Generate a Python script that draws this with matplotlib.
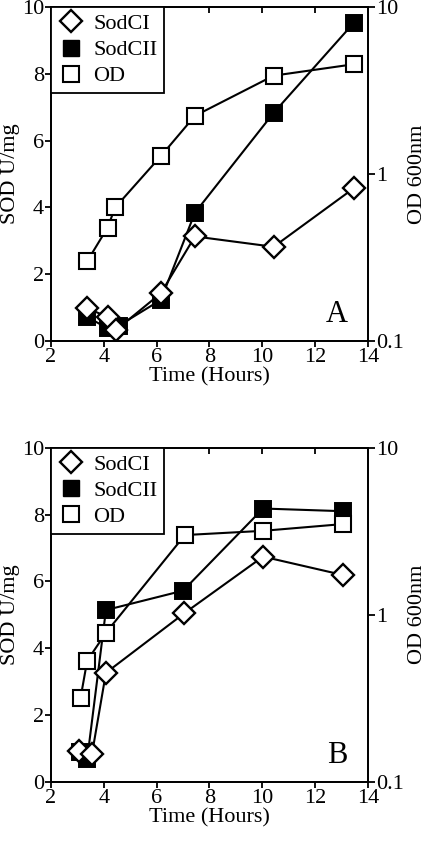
import matplotlib

matplotlib.use("Agg")
import matplotlib.pyplot as plt
from matplotlib.lines import Line2D
from matplotlib.ticker import FixedLocator, FixedFormatter, NullLocator

plt.rcParams["font.family"] = ["Liberation Serif", "DejaVu Serif"]

# Panel A
a_sodci_t = [3.37, 4.14, 4.45, 6.16, 7.45, 10.43, 13.46]
a_sodci = [0.98, 0.72, 0.32, 1.43, 3.13, 2.82, 4.57]
a_sodcii_t = [3.37, 4.14, 4.57, 6.16, 7.45, 10.43, 13.46]
a_sodcii = [0.72, 0.38, 0.46, 1.23, 3.84, 6.83, 9.52]
a_od_t = [3.37, 4.14, 4.43, 6.16, 7.45, 10.43, 13.46]
a_od = [0.30, 0.477, 0.63, 1.28, 2.23, 3.88, 4.54]

# Panel B
b_sodci_t = [3.05, 3.55, 4.08, 7.04, 10.03, 13.05]
b_sodci = [0.93, 0.82, 3.26, 5.04, 6.74, 6.19]
b_sodcii_t = [3.08, 3.37, 4.08, 7.0, 10.03, 13.05]
b_sodcii = [0.88, 0.67, 5.14, 5.72, 8.18, 8.10]
b_od_t = [3.12, 3.37, 4.08, 7.07, 10.03, 13.05]
b_od = [0.318, 0.53, 0.78, 3.0, 3.18, 3.49]

time_ticks = [2, 4, 6, 8, 10, 12, 14]
sod_ticks = [0, 2, 4, 6, 8, 10]
od_ticks = [0.1, 1, 10]
od_labels = ["0.1", "1", "10"]

FS = 16
LW = 1.5
MS = 11


def draw_panel(ax, sodci_t, sodci, sodcii_t, sodcii, od_t, od, letter):
    ax.plot(sodcii_t, sodcii, color="black", lw=LW, marker="s", ms=MS,
            mfc="black", mec="black", mew=1.4, zorder=3)
    ax.plot(sodci_t, sodci, color="black", lw=LW, marker="D", ms=MS,
            mfc="white", mec="black", mew=1.7, zorder=4)
    ax.set_xlim(2, 14)
    ax.set_ylim(0, 10)
    ax.set_xticks(time_ticks)
    ax.set_yticks(sod_ticks)
    ax.tick_params(axis="x", direction="out", length=4, width=1.3,
                   labelsize=FS, top=True, pad=1)
    ax.tick_params(axis="y", direction="out", length=4, width=1.3,
                   labelsize=FS, pad=1)
    ax.set_xlabel("Time (Hours)", fontsize=FS, labelpad=0.5)
    ax.set_ylabel("SOD U/mg", fontsize=FS, labelpad=1)
    for s in ax.spines.values():
        s.set_linewidth(1.3)
    # top ticks point inward
    for t in ax.xaxis.get_major_ticks():
        t.tick2line.set_marker(3)

    ax2 = ax.twinx()
    ax2.set_yscale("log")
    ax2.set_ylim(0.1, 10)
    ax2.plot(od_t, od, color="black", lw=LW, marker="s", ms=MS,
             mfc="white", mec="black", mew=1.5, zorder=3)
    ax2.yaxis.set_major_locator(FixedLocator(od_ticks))
    ax2.yaxis.set_major_formatter(FixedFormatter(od_labels))
    ax2.yaxis.set_minor_locator(NullLocator())
    ax2.tick_params(axis="y", direction="out", length=5, width=1.3,
                    labelsize=FS, pad=1)
    ax2.set_ylabel("OD 600nm", fontsize=FS, labelpad=3)
    for s in ax2.spines.values():
        s.set_linewidth(1.3)

    ax2.text(12.83, 0.78, letter, transform=ax.transData, fontsize=22,
             ha="center", va="center")

    handles = [
        Line2D([], [], ls="none", marker="D", ms=MS, mfc="white",
               mec="black", mew=1.7, color="black"),
        Line2D([], [], ls="none", marker="s", ms=MS, mfc="black",
               mec="black", color="black"),
        Line2D([], [], ls="none", marker="s", ms=MS, mfc="white",
               mec="black", mew=1.5, color="black"),
    ]
    leg = ax2.legend(handles, ["SodCI", "SodCII", "OD"], loc="upper left",
                     bbox_to_anchor=(0, 1), borderaxespad=0, fontsize=FS,
                     handlelength=1.2, handletextpad=0.4, labelspacing=0.25,
                     borderpad=0.3, fancybox=False, framealpha=1,
                     edgecolor="black")
    leg.get_frame().set_linewidth(1.3)


fig = plt.figure(figsize=(4.3, 8.44), dpi=100)
ax_a = fig.add_axes([0.1186, 0.596, 0.737, 0.3957])
ax_b = fig.add_axes([0.1186, 0.0738, 0.737, 0.3957])

draw_panel(ax_a, a_sodci_t, a_sodci, a_sodcii_t, a_sodcii, a_od_t, a_od, "A")
draw_panel(ax_b, b_sodci_t, b_sodci, b_sodcii_t, b_sodcii, b_od_t, b_od, "B")

fig.savefig("out.png", dpi=100)
plt.close(fig)
